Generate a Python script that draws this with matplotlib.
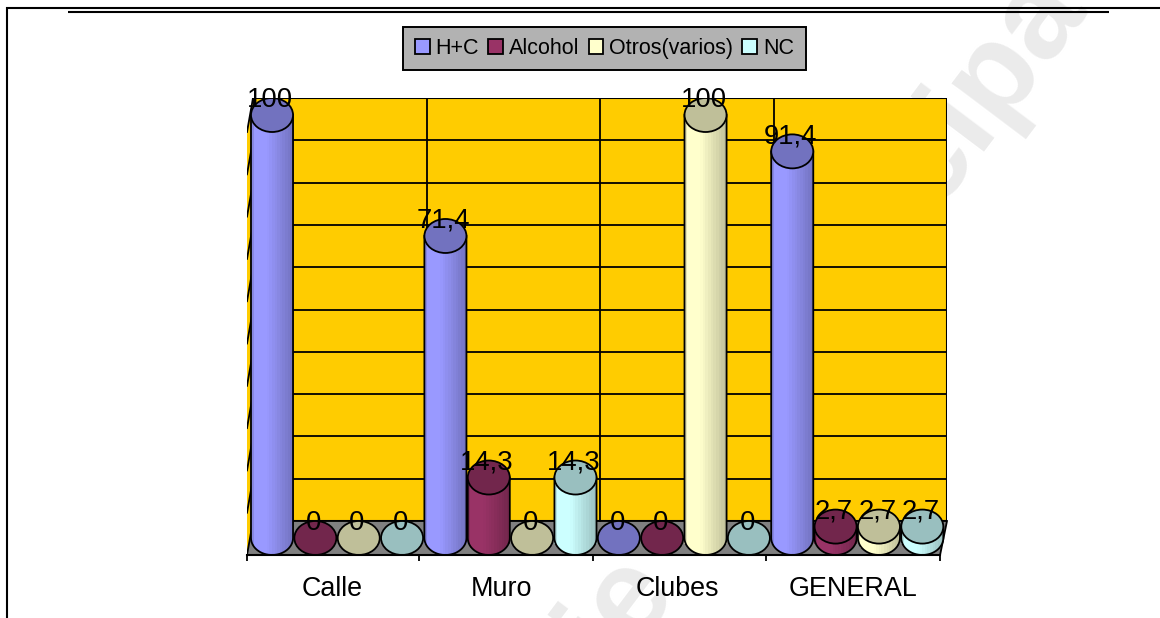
#!/usr/bin/env python3
"""3D style cylinder chart: H+C, Alcohol, Otros, NC by place."""
import matplotlib
matplotlib.use('Agg')
import matplotlib.pyplot as plt
from matplotlib.lines import Line2D
from matplotlib.patches import Ellipse, Patch, Polygon
import numpy as np

categories = ['Calle', 'Muro', 'Clubes', 'GENERAL']
series_names = ['H+C', 'Alcohol', 'Otros(varios)', 'NC']
hc = [100, 71.4, 0, 91.4]
alcohol = [0, 14.3, 0, 2.7]
otros = [0, 0, 100, 2.7]
nc = [0, 14.3, 0, 2.7]
y_grid = [0, 10, 20, 30, 40, 50, 60, 70, 80, 90, 100]

body_colors = ['#9999FF', '#993366', '#FFFFCC', '#CCFFFF']
cap_colors = ['#7272BF', '#72264C', '#BFBF99', '#99BFBF']

W, H = 1160, 618
PX_Y = 4.23     # pixels per value unit
PX_X = 43.35    # pixels per bar slot
DEPTH = 17 / PX_Y
X0, X1 = -0.577, 15.41
XB0, XB1 = -0.438, 15.57
LW = 1.3

plt.rcParams.update({'font.family': ['Liberation Sans', 'DejaVu Sans'], 'font.size': 19.4})

fig = plt.figure(figsize=(W / 100, H / 100), dpi=100, facecolor='white')


def fig_line(x0, y0, x1, y1, lw):
    fig.add_artist(Line2D([x0 / W, x1 / W], [1 - y0 / H, 1 - y1 / H], color='black',
                          lw=lw, solid_capstyle='butt', transform=fig.transFigure))


# page frame
fig_line(6, 8, W, 8, 1.5)
fig_line(7, 7, 7, H, 1.5)
fig_line(68, 12, 1109, 12, 1.5)

# watermark, sits behind the chart
wm = dict(color='#EBEBEB', fontsize=91, fontweight='bold', rotation=53, rotation_mode='anchor',
          ha='left', va='baseline', transform=fig.transFigure, zorder=-1)
fig.text(935 / W, 1 - 210 / H, 'cipa', **wm)
fig.text(612 / W, 1 - 670 / H, 'ie', **wm)

ax = fig.add_axes([247 / W, 1 - 555 / H, 700 / W, 457 / H])
ax.patch.set_visible(False)
ax.set_xlim(X0, XB1)
ax.set_ylim(-DEPTH, 100 + DEPTH)

# back wall, side wall and floor
ax.add_patch(Polygon([(XB0, DEPTH), (XB1, DEPTH), (XB1, 100 + DEPTH), (XB0, 100 + DEPTH)],
                     fc='#FFCC00', ec='black', lw=LW + 0.2, zorder=1))
ax.add_patch(Polygon([(X0, -DEPTH), (XB0, DEPTH), (XB0, 100 + DEPTH), (X0, 100 - DEPTH)],
                     fc='#FFCC00', ec='none', zorder=1))
ax.add_patch(Polygon([(X0, -DEPTH), (X1, -DEPTH), (XB1, DEPTH), (XB0, DEPTH)],
                     fc='#808080', ec='none', zorder=1))
ax.plot([X1, XB1], [-DEPTH, DEPTH], color='black', lw=LW, zorder=1.5, clip_on=False)
for v in y_grid:
    ax.plot([XB0, XB1], [v + DEPTH, v + DEPTH], color='black', lw=LW, zorder=1.5)
    ax.plot([X0, XB0], [v - DEPTH, v + DEPTH], color='black', lw=LW, zorder=1.5)
for g in range(1, 4):
    xg = XB0 + g * 4.0025
    ax.plot([xg, xg], [DEPTH, 100 + DEPTH], color='black', lw=LW, zorder=1.5)


def shade(color, cap, u):
    c0 = np.array(matplotlib.colors.to_rgb(color))
    c1 = np.array(matplotlib.colors.to_rgb(cap))
    t = 0.45 if u < 0.06 else (0.0 if u < 0.38 else (u - 0.38) / 0.62)
    return c0 * (1 - t) + c1 * t


def cylinder(x, value, color, cap, z):
    w = 0.97
    if value > 0:
        n = 16
        for k in range(n):
            u = (k + 0.5) / n
            low = -DEPTH * np.sqrt(max(0, 1 - (2 * u - 1) ** 2))
            ax.bar(x - w / 2 + u * w, value - low, bottom=low, width=w / n + 0.005,
                   color=shade(color, cap, u), lw=0, zorder=z)
        t = np.linspace(np.pi, 2 * np.pi, 30)
        ox = np.r_[x - w / 2, x + w / 2 * np.cos(t), x + w / 2]
        oy = np.r_[value, DEPTH * np.sin(t), value]
        ax.plot(ox, oy, color='black', lw=LW, zorder=z + 0.01)
    ax.add_patch(Ellipse((x, value), w, 2 * DEPTH, fc=cap, ec='black', lw=LW, zorder=z + 0.02))


all_series = [hc, alcohol, otros, nc]
for g in range(len(categories)):
    for s, vals in enumerate(all_series):
        x = g * 4 + s
        cylinder(x, vals[g], body_colors[s], cap_colors[s], 2 + x * 0.1)
        label = f'{vals[g]:g}'.replace('.', ',')
        ax.text(x - 0.04, vals[g] + 1.9, label, ha='center', va='baseline', fontsize=19.8,
                color='black', zorder=6, clip_on=False)

# axis
for side in ['top', 'left', 'right']:
    ax.spines[side].set_visible(False)
ax.spines['bottom'].set_bounds(X0, X1)
ax.spines['bottom'].set_linewidth(LW + 0.2)
ax.spines['bottom'].set_zorder(5)
ax.set_yticks([])
ax.set_xticks([1.38, 5.3, 9.36, 13.4])
ax.set_xticklabels(categories)
ax.tick_params(axis='x', which='major', length=0, pad=15)
ax.set_xticks([X0, 3.39, 7.40, 11.4, X1], minor=True)
ax.tick_params(axis='x', which='minor', length=4.5, width=LW)

# legend
handles = [Patch(fc=c, ec='black', lw=LW) for c in body_colors]
leg = fig.legend(handles, series_names, loc='center', bbox_to_anchor=(604.5 / W, 1 - 48.5 / H),
                 ncol=4, fontsize=15.5, frameon=True, fancybox=False, framealpha=1,
                 facecolor='#B2B2B2', edgecolor='black', handlelength=0.69, handleheight=0.69,
                 handletextpad=0.28, columnspacing=0.42, borderpad=0.52, borderaxespad=0)
leg.get_frame().set_linewidth(1.4)

fig.savefig('out.png', dpi=100)
